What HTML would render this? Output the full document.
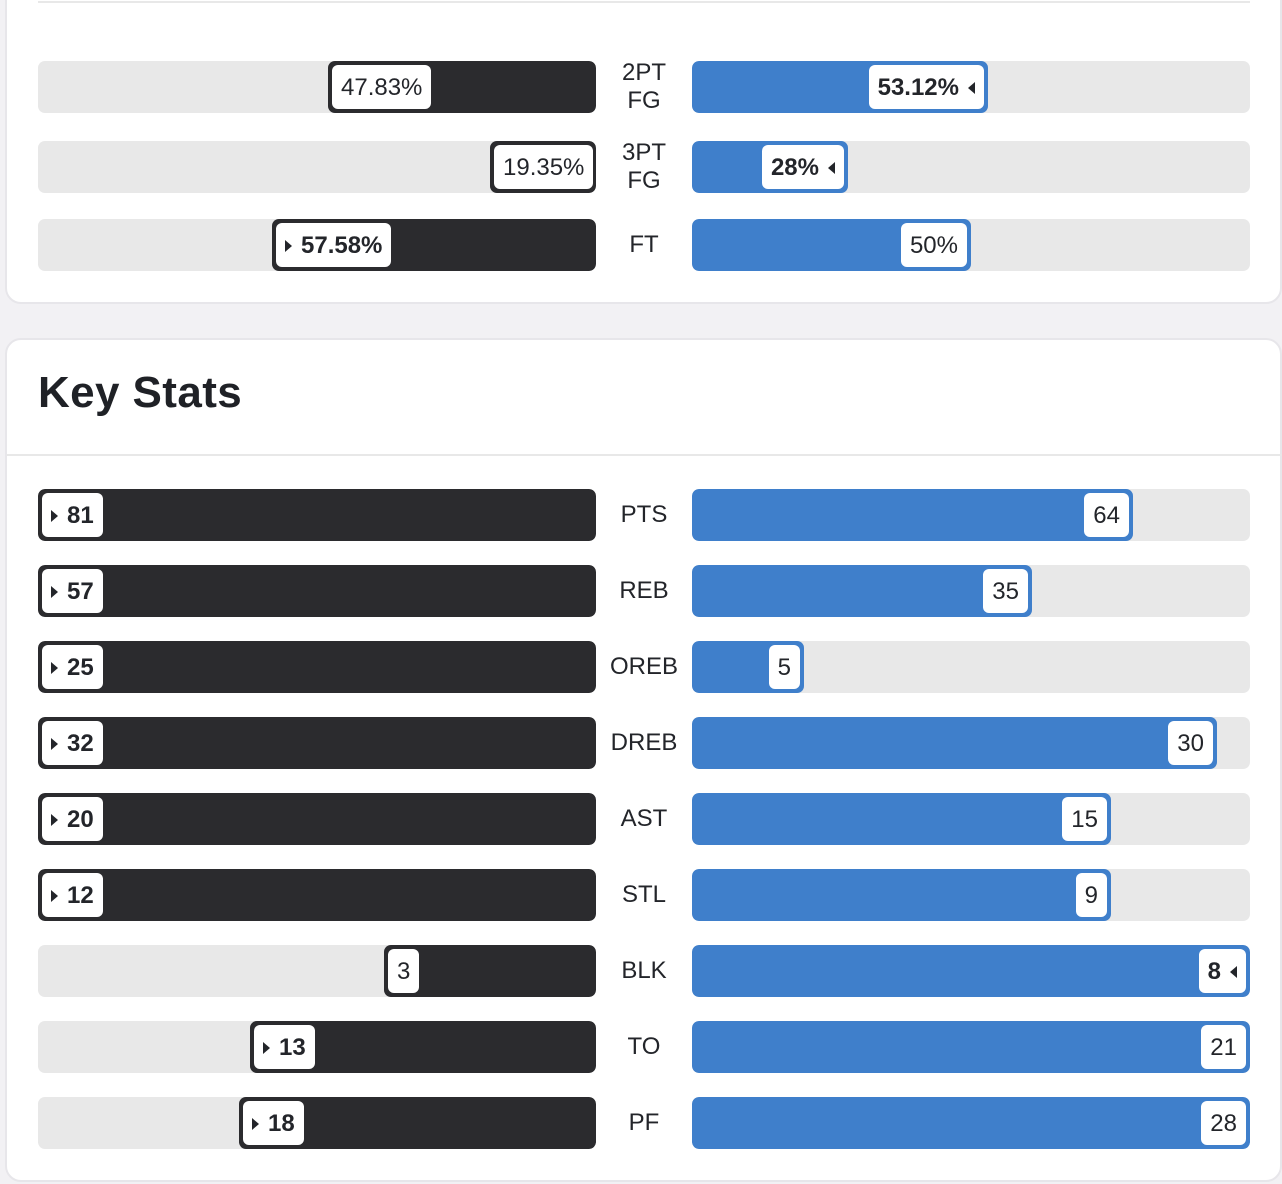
<!DOCTYPE html>
<html>
<head>
<meta charset="utf-8">
<style>
  html, body { margin:0; padding:0; }
  body {
    width:1282px; height:1184px; overflow:hidden; position:relative;
    background:#f2f1f4;
    font-family:"Liberation Sans", Arial, sans-serif;
    color:#23252a;
  }
  .card {
    position:absolute; background:#fff;
    border:2px solid #e7e6ea; border-radius:16px; box-sizing:border-box;
  }
  .track {
    position:absolute; height:52px; width:558px;
    background:#e8e8e8; border-radius:7px; overflow:hidden;
  }
  .track.L { left:38px; }
  .track.R { left:692px; }
  .fill {
    position:absolute; top:0; height:52px; border-radius:7px;
    display:flex; align-items:center; box-sizing:border-box;
  }
  .L .fill { right:0; background:#2b2b2e; justify-content:flex-start; padding-left:4px; }
  .R .fill { left:0; background:#3f7fcb; justify-content:flex-end; padding-right:4px; }
  .lab {
    height:44px; background:#fff; border-radius:6px;
    padding:1px 9px 0 9px; box-sizing:border-box;
    display:flex; align-items:center;
    font-size:24px; color:#23252a; white-space:nowrap;
  }
  .lab.b { font-weight:bold; }
  .tr { display:inline-block; width:0; height:0;
    border-top:6px solid transparent; border-bottom:6px solid transparent; }
  .tr.r { border-left:7px solid #23252a; margin-right:9px; }
  .tr.l { border-right:7px solid #23252a; margin-left:9px; }
  .mid {
    position:absolute; left:596px; width:96px; height:52px;
    display:flex; align-items:center; justify-content:center; text-align:center;
    font-size:24px; line-height:28px; color:#23252a;
  }
</style>
</head>
<body>

<!-- Card 1 -->
<div class="card" style="left:5px; top:-30px; width:1277px; height:334px;"></div>
<div style="position:absolute; left:38px; top:1px; width:1212px; height:2px; background:#e8e8e8;"></div>

<div class="track L" style="top:61px;"><div class="fill" style="width:268px;"><span class="lab">47.83%</span></div></div>
<div class="mid" style="top:61px;">2PT<br>FG</div>
<div class="track R" style="top:61px;"><div class="fill" style="width:296px;"><span class="lab b">53.12%<span class="tr l"></span></span></div></div>

<div class="track L" style="top:141px;"><div class="fill" style="width:106px;"><span class="lab">19.35%</span></div></div>
<div class="mid" style="top:141px;">3PT<br>FG</div>
<div class="track R" style="top:141px;"><div class="fill" style="width:156px;"><span class="lab b">28%<span class="tr l"></span></span></div></div>

<div class="track L" style="top:219px;"><div class="fill" style="width:324px;"><span class="lab b"><span class="tr r"></span>57.58%</span></div></div>
<div class="mid" style="top:219px;">FT</div>
<div class="track R" style="top:219px;"><div class="fill" style="width:279px;"><span class="lab">50%</span></div></div>

<!-- Card 2 -->
<div class="card" style="left:5px; top:338px; width:1277px; height:844px;"></div>
<div style="position:absolute; left:38px; top:371px; font-size:44px; line-height:44px; font-weight:bold; color:#1f2126; letter-spacing:0.4px;">Key Stats</div>
<div style="position:absolute; left:7px; top:454px; width:1275px; height:2px; background:#e8e8e8;"></div>

<!-- PTS -->
<div class="track L" style="top:489px;"><div class="fill" style="width:558px;"><span class="lab b"><span class="tr r"></span>81</span></div></div>
<div class="mid" style="top:489px;">PTS</div>
<div class="track R" style="top:489px;"><div class="fill" style="width:441px;"><span class="lab">64</span></div></div>

<!-- REB -->
<div class="track L" style="top:565px;"><div class="fill" style="width:558px;"><span class="lab b"><span class="tr r"></span>57</span></div></div>
<div class="mid" style="top:565px;">REB</div>
<div class="track R" style="top:565px;"><div class="fill" style="width:340px;"><span class="lab">35</span></div></div>

<!-- OREB -->
<div class="track L" style="top:641px;"><div class="fill" style="width:558px;"><span class="lab b"><span class="tr r"></span>25</span></div></div>
<div class="mid" style="top:641px;">OREB</div>
<div class="track R" style="top:641px;"><div class="fill" style="width:112px;"><span class="lab">5</span></div></div>

<!-- DREB -->
<div class="track L" style="top:717px;"><div class="fill" style="width:558px;"><span class="lab b"><span class="tr r"></span>32</span></div></div>
<div class="mid" style="top:717px;">DREB</div>
<div class="track R" style="top:717px;"><div class="fill" style="width:525px;"><span class="lab">30</span></div></div>

<!-- AST -->
<div class="track L" style="top:793px;"><div class="fill" style="width:558px;"><span class="lab b"><span class="tr r"></span>20</span></div></div>
<div class="mid" style="top:793px;">AST</div>
<div class="track R" style="top:793px;"><div class="fill" style="width:419px;"><span class="lab">15</span></div></div>

<!-- STL -->
<div class="track L" style="top:869px;"><div class="fill" style="width:558px;"><span class="lab b"><span class="tr r"></span>12</span></div></div>
<div class="mid" style="top:869px;">STL</div>
<div class="track R" style="top:869px;"><div class="fill" style="width:419px;"><span class="lab">9</span></div></div>

<!-- BLK -->
<div class="track L" style="top:945px;"><div class="fill" style="width:212px;"><span class="lab">3</span></div></div>
<div class="mid" style="top:945px;">BLK</div>
<div class="track R" style="top:945px;"><div class="fill" style="width:558px;"><span class="lab b">8<span class="tr l"></span></span></div></div>

<!-- TO -->
<div class="track L" style="top:1021px;"><div class="fill" style="width:346px;"><span class="lab b"><span class="tr r"></span>13</span></div></div>
<div class="mid" style="top:1021px;">TO</div>
<div class="track R" style="top:1021px;"><div class="fill" style="width:558px;"><span class="lab">21</span></div></div>

<!-- PF -->
<div class="track L" style="top:1097px;"><div class="fill" style="width:357px;"><span class="lab b"><span class="tr r"></span>18</span></div></div>
<div class="mid" style="top:1097px;">PF</div>
<div class="track R" style="top:1097px;"><div class="fill" style="width:558px;"><span class="lab">28</span></div></div>

</body>
</html>
